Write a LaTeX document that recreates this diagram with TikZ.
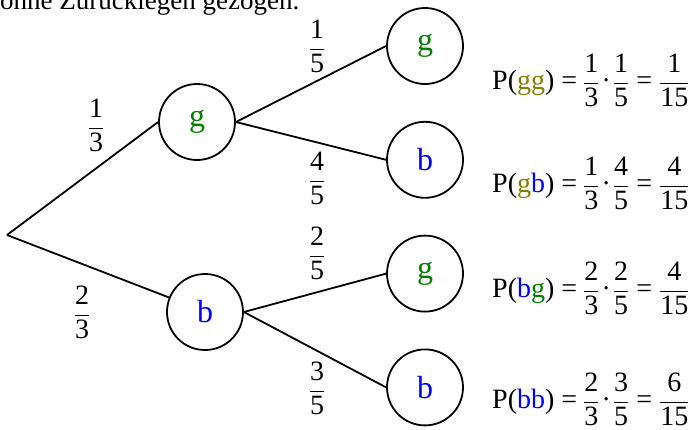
\documentclass[tikz,border=0pt]{standalone}
\usepackage{fontspec}
\setmainfont{Liberation Serif}
\usetikzlibrary{positioning}
\definecolor{GreenG}{RGB}{0,128,0}
\definecolor{OliveG}{RGB}{128,128,0}
\definecolor{BlueB}{RGB}{0,0,255}
\newcommand{\bruch}[2]{$\displaystyle\frac{\mbox{#1}}{\mbox{#2}}$}
\newcommand{\gtxt}{\textcolor{GreenG}{g}}
\newcommand{\otxt}{\textcolor{OliveG}{g}}
\newcommand{\btxt}{\textcolor{BlueB}{b}}

\begin{document}
\begin{tikzpicture}[x=1pt, y=-1pt,
  knot/.style={circle, draw, line width=1.8pt, minimum size=76pt, inner sep=0pt,
    font=\fontsize{32}{36}\selectfont},
  prob/.style={font=\fontsize{28}{32}\selectfont, inner sep=0pt},
  formel/.style={font=\fontsize{28}{32}\selectfont, anchor=base west, inner sep=0pt},
  ast/.style={line width=1.8pt},
]
\useasboundingbox (0,0) rectangle (691,429);
% Header line, cut off at the top
\node[anchor=base west, inner sep=0pt, font=\fontsize{27}{30}\selectfont] (kopf) at (0,9) {ohne Zurücklegen gezogen.};
% First draw
\coordinate (start) at (7,235);
\node[knot, text=GreenG] (g) at (197,122) {g};
\node[knot, text=BlueB] (b) at (205,312) {b};
% Second draw
\node[knot, text=GreenG] (gg) at (425,46) {g};
\node[knot, text=BlueB, below=36pt of gg] (gb) {b};
\node[knot, text=GreenG, below=36pt of gb] (bg) {g};
\node[knot, text=BlueB, below=36pt of bg] (bb) {b};
% Branches
\draw[ast] (start) -- (g.west);
\draw[ast] (start) -- (b.158);
\draw[ast] (g.east) -- (gg.west);
\draw[ast] (g.east) -- (gb.west);
\draw[ast] (b.east) -- (bg.west);
\draw[ast] (b.east) -- (bb.west);
% Branch probabilities
\node[prob] (p13) at (96,125) {\bruch{1}{3}};
\node[prob] (p23) at (82,312) {\bruch{2}{3}};
\node[prob] (p15) at (317,46) {\bruch{1}{5}};
\node[prob] (p45) at (317,178) {\bruch{4}{5}};
\node[prob] (p25) at (317,253) {\bruch{2}{5}};
\node[prob] (p35) at (317,388) {\bruch{3}{5}};
% Path probabilities
\node[formel] (fgg) at (492,89) {P(\otxt\otxt) =\hspace{6pt}\bruch{1}{3}\hspace{2pt}·\hspace{2pt}\bruch{1}{5} = \bruch{1}{15}};
\node[formel] (fgb) at (492,192) {P(\otxt\btxt) =\hspace{6pt}\bruch{1}{3}\hspace{2pt}·\hspace{2pt}\bruch{4}{5} = \bruch{4}{15}};
\node[formel] (fbg) at (492,297) {P(\btxt\gtxt) =\hspace{6pt}\bruch{2}{3}\hspace{2pt}·\hspace{2pt}\bruch{2}{5} = \bruch{4}{15}};
\node[formel] (fbb) at (492,408) {P(\btxt\btxt) =\hspace{6pt}\bruch{2}{3}\hspace{2pt}·\hspace{2pt}\bruch{3}{5} = \bruch{6}{15}};
\end{tikzpicture}
\end{document}
